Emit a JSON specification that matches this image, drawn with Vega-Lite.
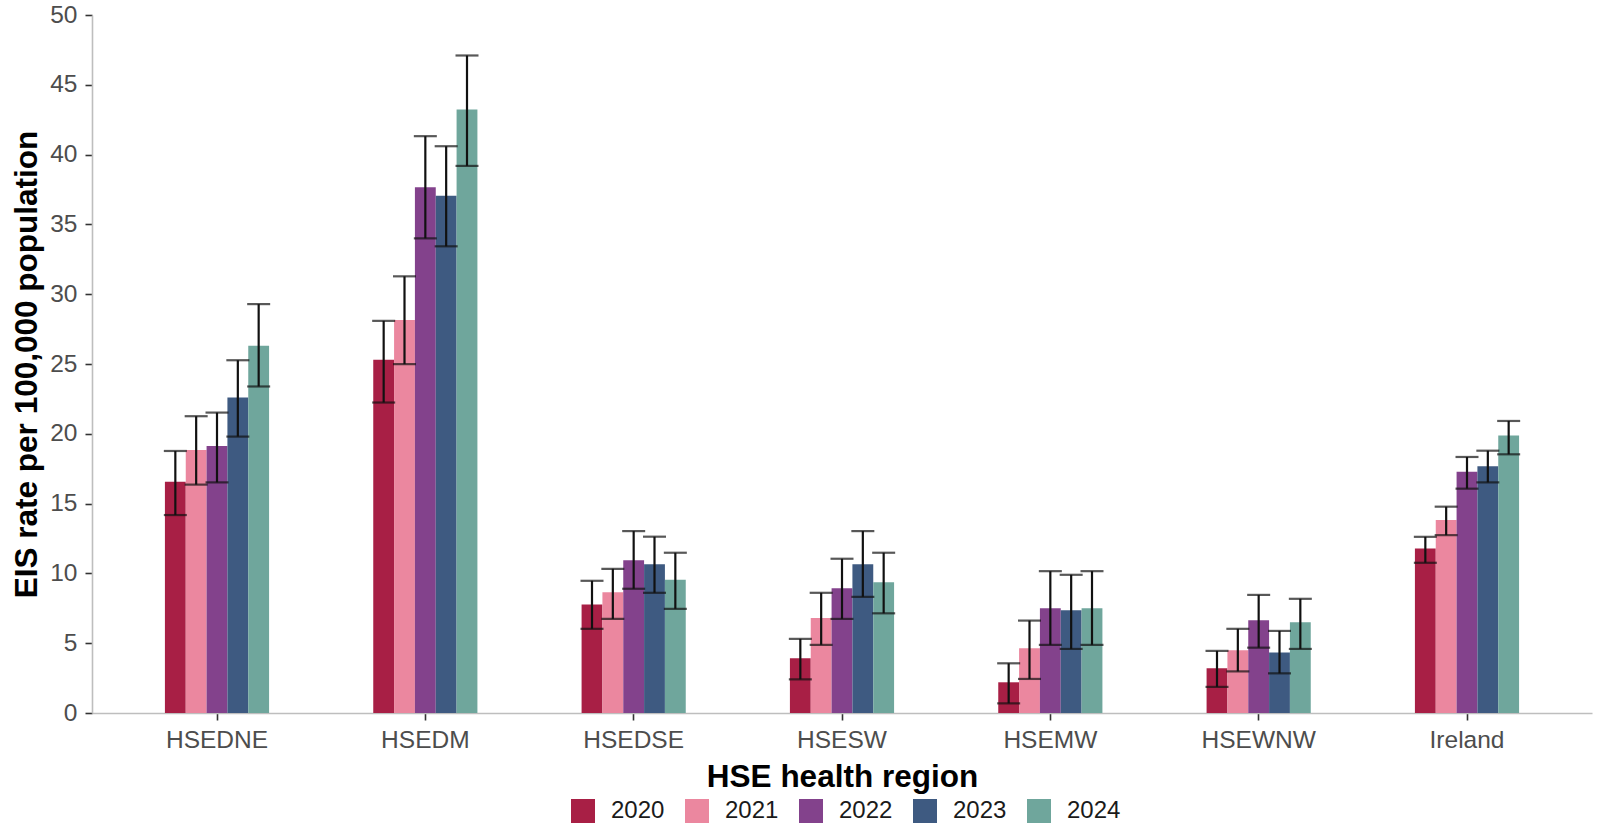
{
  "$schema": "https://vega.github.io/schema/vega-lite/v6.json",
  "autosize": {"type": "none"},
  "padding": {"left": 92, "top": 15, "right": 6, "bottom": 115},
  "width": 1500,
  "height": 698,
  "background": "white",
  "config": {
    "view": {"stroke": null},
    "font": "Liberation Sans",
    "axis": {
      "grid": false,
      "domainColor": "#BEBEBE",
      "domainWidth": 1.6,
      "tickColor": "#333333",
      "tickWidth": 1.6,
      "tickSize": 7,
      "labelFont": "Liberation Sans",
      "labelFontSize": 24.5,
      "labelColor": "#4D4D4D",
      "titleFont": "Liberation Sans",
      "titleFontSize": 31.5,
      "titleFontWeight": "bold",
      "titleColor": "#000000"
    },
    "legend": {
      "orient": "none",
      "direction": "horizontal",
      "legendX": 479,
      "legendY": 784,
      "title": null,
      "symbolType": "square",
      "symbolSize": 576,
      "symbolStrokeWidth": 0,
      "labelFont": "Liberation Sans",
      "labelFontSize": 24,
      "labelColor": "#1A1A1A",
      "labelOffset": 16,
      "columnPadding": 20
    }
  },
  "data": {
    "values": [
      {"region": "HSEDNE", "year": "2020", "value": 16.57, "lo": 14.18, "hi": 18.77},
      {"region": "HSEDNE", "year": "2021", "value": 18.84, "lo": 16.36, "hi": 21.26},
      {"region": "HSEDNE", "year": "2022", "value": 19.13, "lo": 16.52, "hi": 21.52},
      {"region": "HSEDNE", "year": "2023", "value": 22.6, "lo": 19.8, "hi": 25.27},
      {"region": "HSEDNE", "year": "2024", "value": 26.3, "lo": 23.39, "hi": 29.29},
      {"region": "HSEDM", "year": "2020", "value": 25.3, "lo": 22.24, "hi": 28.09},
      {"region": "HSEDM", "year": "2021", "value": 28.16, "lo": 24.99, "hi": 31.28},
      {"region": "HSEDM", "year": "2022", "value": 37.66, "lo": 34.0, "hi": 41.32},
      {"region": "HSEDM", "year": "2023", "value": 37.06, "lo": 33.43, "hi": 40.6},
      {"region": "HSEDM", "year": "2024", "value": 43.23, "lo": 39.19, "hi": 47.1},
      {"region": "HSEDSE", "year": "2020", "value": 7.77, "lo": 6.03, "hi": 9.47},
      {"region": "HSEDSE", "year": "2021", "value": 8.65, "lo": 6.74, "hi": 10.33},
      {"region": "HSEDSE", "year": "2022", "value": 10.95, "lo": 8.9, "hi": 13.03},
      {"region": "HSEDSE", "year": "2023", "value": 10.66, "lo": 8.61, "hi": 12.63},
      {"region": "HSEDSE", "year": "2024", "value": 9.54, "lo": 7.46, "hi": 11.48},
      {"region": "HSESW", "year": "2020", "value": 3.92, "lo": 2.41, "hi": 5.31},
      {"region": "HSESW", "year": "2021", "value": 6.81, "lo": 4.88, "hi": 8.61},
      {"region": "HSESW", "year": "2022", "value": 8.94, "lo": 6.74, "hi": 11.05},
      {"region": "HSESW", "year": "2023", "value": 10.66, "lo": 8.32, "hi": 13.03},
      {"region": "HSESW", "year": "2024", "value": 9.37, "lo": 7.14, "hi": 11.48},
      {"region": "HSEMW", "year": "2020", "value": 2.2, "lo": 0.69, "hi": 3.56},
      {"region": "HSEMW", "year": "2021", "value": 4.64, "lo": 2.44, "hi": 6.62},
      {"region": "HSEMW", "year": "2022", "value": 7.5, "lo": 4.88, "hi": 10.16},
      {"region": "HSEMW", "year": "2023", "value": 7.36, "lo": 4.59, "hi": 9.9},
      {"region": "HSEMW", "year": "2024", "value": 7.5, "lo": 4.88, "hi": 10.16},
      {"region": "HSEWNW", "year": "2020", "value": 3.2, "lo": 1.87, "hi": 4.45},
      {"region": "HSEWNW", "year": "2021", "value": 4.49, "lo": 2.98, "hi": 6.03},
      {"region": "HSEWNW", "year": "2022", "value": 6.64, "lo": 4.68, "hi": 8.46},
      {"region": "HSEWNW", "year": "2023", "value": 4.33, "lo": 2.84, "hi": 5.88},
      {"region": "HSEWNW", "year": "2024", "value": 6.5, "lo": 4.59, "hi": 8.18},
      {"region": "Ireland", "year": "2020", "value": 11.79, "lo": 10.76, "hi": 12.62},
      {"region": "Ireland", "year": "2021", "value": 13.82, "lo": 12.74, "hi": 14.78},
      {"region": "Ireland", "year": "2022", "value": 17.29, "lo": 16.07, "hi": 18.34},
      {"region": "Ireland", "year": "2023", "value": 17.67, "lo": 16.52, "hi": 18.79},
      {"region": "Ireland", "year": "2024", "value": 19.87, "lo": 18.53, "hi": 20.92}
    ]
  },
  "encoding": {
    "x": {
      "field": "region",
      "type": "nominal",
      "sort": ["HSEDNE", "HSEDM", "HSEDSE", "HSESW", "HSEMW", "HSEWNW", "Ireland"],
      "scale": {"paddingInner": 0.5, "paddingOuter": 0.35},
      "axis": {"title": "HSE health region", "labelAngle": 0, "labelPadding": 8, "titlePadding": 10}
    },
    "xOffset": {
      "field": "year",
      "type": "nominal",
      "sort": ["2020", "2021", "2022", "2023", "2024"],
      "scale": {"paddingInner": 0, "paddingOuter": 0}
    }
  },
  "layer": [
    {
      "mark": {"type": "bar"},
      "encoding": {
        "y": {
          "field": "value",
          "type": "quantitative",
          "scale": {"domain": [0, 50], "nice": false, "zero": true},
          "axis": {"title": "EIS rate per 100,000 population", "values": [0, 5, 10, 15, 20, 25, 30, 35, 40, 45, 50], "labelPadding": 8, "titlePadding": 6}
        },
        "color": {
          "field": "year",
          "type": "nominal",
          "sort": ["2020", "2021", "2022", "2023", "2024"],
          "scale": {"domain": ["2020", "2021", "2022", "2023", "2024"], "range": ["#A81F45", "#EB879F", "#83428C", "#3E5A81", "#6FA69C"]}
        }
      }
    },
    {
      "mark": {"type": "rule", "color": "#111111", "strokeWidth": 2.2},
      "encoding": {
        "y": {"field": "lo", "type": "quantitative"},
        "y2": {"field": "hi"}
      }
    },
    {
      "mark": {"type": "tick", "color": "#111111", "thickness": 2.2, "size": 23},
      "encoding": {
        "y": {"field": "lo", "type": "quantitative"}
      }
    },
    {
      "mark": {"type": "tick", "color": "#111111", "thickness": 2.2, "size": 23},
      "encoding": {
        "y": {"field": "hi", "type": "quantitative"}
      }
    }
  ]
}
